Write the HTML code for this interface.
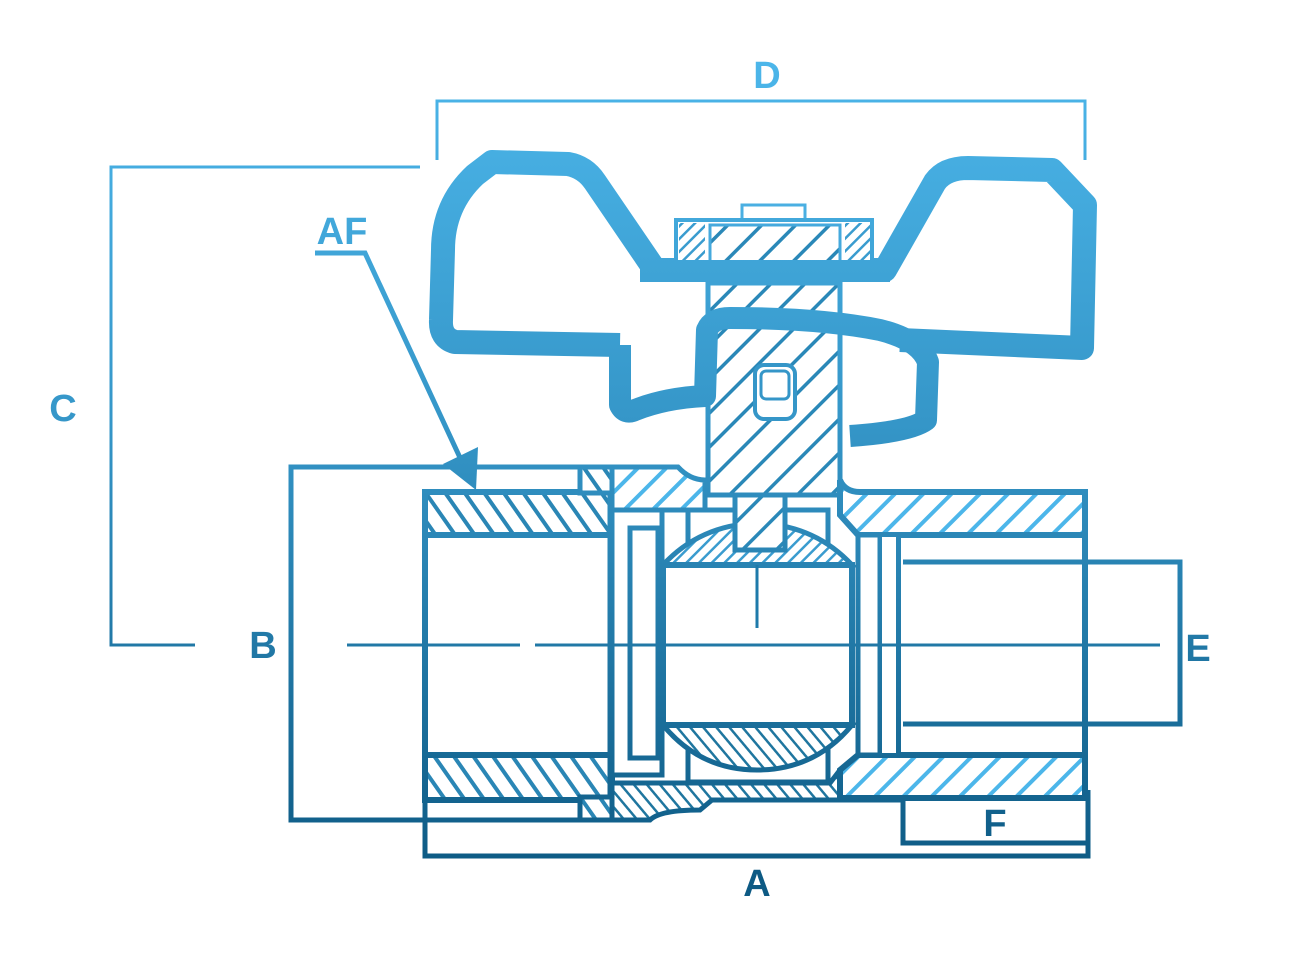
<!DOCTYPE html>
<html><head><meta charset="utf-8"><style>
html,body{margin:0;padding:0;background:#fff;}
svg{display:block;}
text{font-family:"Liberation Sans",sans-serif;font-weight:bold;}
</style></head><body>
<svg width="1296" height="957" viewBox="0 0 1296 957" xmlns="http://www.w3.org/2000/svg">
<defs>
<linearGradient id="g" gradientUnits="userSpaceOnUse" x1="0" y1="60" x2="0" y2="870">
<stop offset="0" stop-color="#4cb6ea"/>
<stop offset="0.45" stop-color="#3596c8"/>
<stop offset="1" stop-color="#0d5a84"/>
</linearGradient>
<pattern id="h1" patternUnits="userSpaceOnUse" width="20" height="20" patternTransform="rotate(45)">
<rect width="20" height="20" fill="#fff"/><rect x="0" y="0" width="4" height="20" fill="url(#g)"/>
</pattern>
<pattern id="h2" patternUnits="userSpaceOnUse" width="16" height="16" patternTransform="rotate(-35)">
<rect width="16" height="16" fill="#fff"/><rect x="0" y="0" width="4" height="16" fill="#2a86b5"/>
</pattern>
<pattern id="h3" patternUnits="userSpaceOnUse" width="9" height="9" patternTransform="rotate(45)">
<rect width="9" height="9" fill="#fff"/><rect x="0" y="0" width="2.5" height="9" fill="#3a9ccf"/>
</pattern>
<pattern id="h4" patternUnits="userSpaceOnUse" width="10" height="10" patternTransform="rotate(-40)">
<rect width="10" height="10" fill="#fff"/><rect x="0" y="0" width="2.5" height="10" fill="#1f769f"/>
</pattern>
<pattern id="h5" patternUnits="userSpaceOnUse" width="24" height="24" patternTransform="rotate(45)">
<rect width="24" height="24" fill="#fff"/><rect x="0" y="0" width="3.5" height="24" fill="#2a88b8"/>
</pattern>
</defs>

<g fill="url(#g)" font-size="38" text-anchor="middle">
<text x="767" y="88">D</text>
<text x="63" y="421">C</text>
<text x="342" y="244">AF</text>
<text x="263" y="658">B</text>
<text x="1198" y="661">E</text>
<text x="995" y="836">F</text>
<text x="757" y="896">A</text>
</g>

<g fill="none" stroke="url(#g)" stroke-width="3">
<polyline points="437,160 437,101 1085,101 1085,160"/>
<polyline points="420,167 111,167 111,645 195,645"/>
</g>
<g fill="none" stroke="url(#g)" stroke-width="5">
<polyline points="315,253 365,253 462,462"/>
<polyline points="580,467 291,467 291,820 580,820"/>
<polyline points="425,800 425,856 1088,856 1088,790"/>
<polyline points="900,562 1180,562 1180,724 900,724"/>
<polyline points="903,770 903,843 1088,843"/>
</g>
<polygon points="476,490 443,464 478,447" fill="url(#g)"/>

<!-- handle -->
<path d="M 620 345 L 455 342 Q 440 338 441 320 L 443 250 Q 443 205 475 175 L 492 162 L 568 164 Q 585 167 595 182 L 655 270 L 885 270 L 935 182 Q 945 168 968 168 L 1052 170 L 1085 205 L 1082 348 L 900 340"
 fill="none" stroke="url(#g)" stroke-width="24" stroke-linejoin="round"/>

<!-- stem -->
<rect x="708" y="283" width="132" height="212" fill="url(#h5)" stroke="url(#g)" stroke-width="5"/>
<path d="M 620 345 L 620 405 Q 625 415 635 410 Q 665 398 705 396 L 707 330 Q 712 318 730 318 Q 820 318 880 330 Q 920 340 928 362 L 926 420 Q 910 432 850 436"
 fill="none" stroke="url(#g)" stroke-width="22" stroke-linejoin="round"/>
<rect x="755" y="365" width="40" height="54" rx="9" fill="#fff" stroke="#3596c8" stroke-width="4"/>
<rect x="761" y="371" width="28" height="28" rx="5" fill="#fff" stroke="#3596c8" stroke-width="3"/>

<!-- nut -->
<rect x="742" y="205" width="63" height="16" fill="#fff" stroke="#4aafe2" stroke-width="3"/>
<rect x="676" y="220" width="196" height="44" fill="#fff" stroke="url(#g)" stroke-width="4"/>
<rect x="679" y="223" width="26" height="38" fill="url(#h3)"/>
<rect x="845" y="223" width="25" height="38" fill="url(#h3)"/>
<rect x="710" y="225" width="130" height="37" fill="url(#h5)" stroke="#45a9dd" stroke-width="3"/>
<rect x="640" y="260" width="250" height="22" fill="url(#g)"/>

<!-- body left cap -->
<rect x="425" y="492" width="187" height="308" fill="url(#h2)" stroke="url(#g)" stroke-width="6"/>
<rect x="425" y="535" width="187" height="220" fill="#fff" stroke="url(#g)" stroke-width="6"/>
<path d="M 580 467 L 612 467 L 612 820 L 580 820 L 580 797 L 610 797 L 610 493 L 580 493 Z" fill="url(#h2)" stroke="url(#g)" stroke-width="5"/>
<path d="M 612 467 L 678 467 Q 690 480 705 480 L 705 510 L 612 510 Z" fill="url(#h1)" stroke="url(#g)" stroke-width="5"/>
<path d="M 612 797 L 612 820 L 650 820 Q 660 810 700 810 L 712 800 L 900 800 L 900 770 L 840 770 L 830 783 L 612 783 Z" fill="url(#h4)" stroke="url(#g)" stroke-width="5"/>
<path d="M 840 480 Q 845 492 860 492 L 1085 492 L 1085 535 L 895 535 L 880 535 L 858 535 L 840 515 Z" fill="url(#h1)" stroke="url(#g)" stroke-width="6"/>
<path d="M 840 770 L 858 755 L 1085 755 L 1085 798 L 840 798 Z" fill="url(#h1)" stroke="url(#g)" stroke-width="6"/>
<rect x="898" y="535" width="187" height="220" fill="#fff" stroke="url(#g)" stroke-width="6"/>
<line x1="903" y1="562" x2="1085" y2="562" stroke="url(#g)" stroke-width="5"/>
<line x1="903" y1="724" x2="1085" y2="724" stroke="url(#g)" stroke-width="5"/>

<rect x="612" y="510" width="50" height="265" fill="#fff" stroke="url(#g)" stroke-width="5"/>
<rect x="630" y="528" width="28" height="230" fill="#fff" stroke="url(#g)" stroke-width="5"/>
<rect x="688" y="510" width="140" height="272" fill="#fff" stroke="url(#g)" stroke-width="5"/>
<rect x="858" y="535" width="22" height="220" fill="#fff" stroke="url(#g)" stroke-width="5"/>
<rect x="880" y="535" width="18" height="220" fill="#fff" stroke="url(#g)" stroke-width="4"/>

<!-- ball -->
<path d="M 663 565 Q 700 525 757 523 Q 815 525 852 565 Z" fill="url(#h3)" stroke="url(#g)" stroke-width="5"/>
<path d="M 663 725 Q 700 770 757 770 Q 815 770 852 725 Z" fill="url(#h4)" stroke="url(#g)" stroke-width="5"/>
<rect x="663" y="565" width="189" height="160" fill="#fff" stroke="url(#g)" stroke-width="6"/>
<line x1="757" y1="565" x2="757" y2="628" stroke="#1e7aaa" stroke-width="3"/>
<line x1="347" y1="645" x2="520" y2="645" stroke="url(#g)" stroke-width="3"/>
<line x1="535" y1="645" x2="1160" y2="645" stroke="url(#g)" stroke-width="3"/>
<rect x="735" y="495" width="50" height="55" fill="url(#h5)" stroke="url(#g)" stroke-width="5"/>
</svg>
</body></html>
